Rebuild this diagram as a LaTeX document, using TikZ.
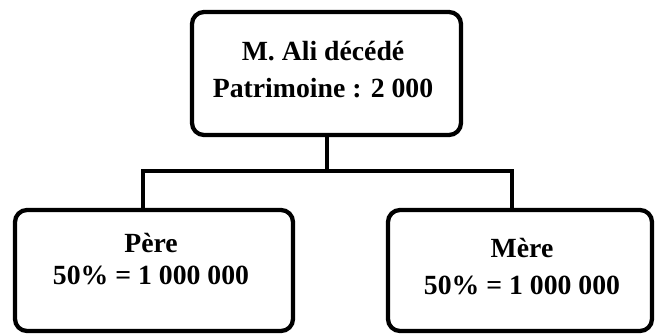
\documentclass[tikz,border=0pt]{standalone}
\usepackage{fontspec}
\setmainfont{Liberation Serif}
\usetikzlibrary{positioning}

\begin{document}
\begin{tikzpicture}[x=0.75pt,y=-0.75pt,
    box node/.style={rectangle,rounded corners=9pt,draw,line width=3.2pt,inner sep=0pt},
    text node/.style={anchor=base,align=center,inner sep=0pt,font=\fontsize{20.8}{27.75}\selectfont\bfseries},
    link/.style={-,line width=3pt}]
   \useasboundingbox (0,0) rectangle (655,333);
   \begin{scope}
     % boxes
     \node[box node,minimum width=269*0.75pt,minimum height=123*0.75pt] (mali) at (326.5,73.5) {};
     \node[box node,minimum width=278*0.75pt,minimum height=121*0.75pt] (pere) at (154,270.5) {};
     \node[box node,minimum width=264*0.75pt,minimum height=121*0.75pt] (mere) at (520,270.5) {};
     % texts (anchored on the last baseline)
     \node[text node] (tmali) at (323,97) {M. Ali décédé\\Patrimoine : 2 000};
     \node[text node] (tpere) at (151,284) {Père\\[-4.2pt]50\% = 1 000 000};
     \node[text node] (tmere) at (522,294) {Mère\\50\% = 1 000 000};
     % tree
     \coordinate (jl) at (143,171);
     \coordinate (jr) at (512,171);
     \draw[link] (mali.south) -- (mali.south |- jl);
     \draw[link] (jl |- pere.north) -- (jl) -- (jr) -- (jr |- mere.north);
   \end{scope}
\end{tikzpicture}
\end{document}
